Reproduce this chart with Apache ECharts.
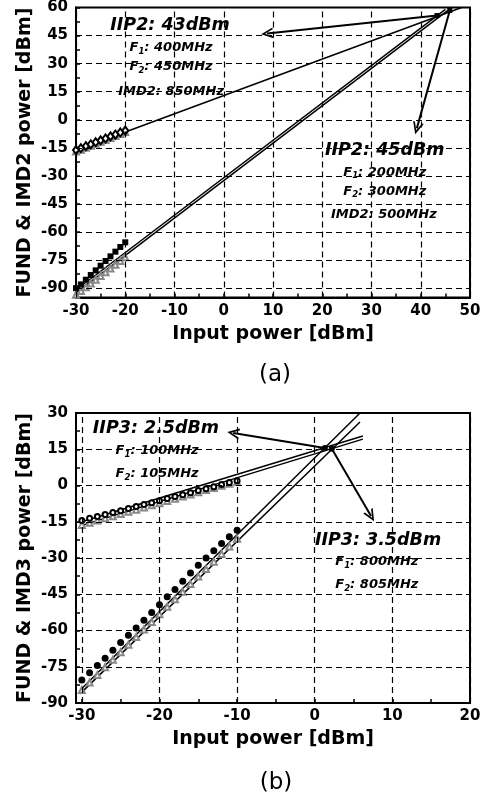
<!doctype html>
<html>
<head>
<meta charset="utf-8">
<script src="https://cdn.jsdelivr.net/npm/echarts@6.0.0/dist/echarts.min.js"></script>
<style>
  html, body { margin: 0; padding: 0; background: #fff; }
  #main { width: 488px; height: 801px; }
</style>
</head>
<body>
<div id="main"></div>
<script>
  // ---------- (a) IIP2 measurement ----------
  var xA = [-30, -29, -28, -27, -26, -25, -24, -23, -22, -21, -20];
  var fundA_dia = [-16.2, -15.2, -14.1, -13.1, -12.0, -11.0, -10.0, -8.9, -7.9, -6.8, -5.8];
  var fundA_tri = [-17.0, -16.0, -14.9, -13.9, -12.8, -11.8, -10.8, -9.7, -8.7, -7.6, -6.6];
  var imd2A_sq  = [-90.0, -88.0, -85.5, -83.0, -80.5, -78.0, -75.5, -73.0, -70.5, -68.0, -65.5];
  var imd2A_tri = [-93.5, -91.5, -89.5, -87.5, -85.5, -83.5, -81.5, -79.5, -77.5, -75.5, -73.5];
  var fitA_fund  = [[-30, -16.3], [48.3, 60]];
  var fitA_imd2a = [[-30, -91.0], [45.0, 59.0]];
  var fitA_imd2b = [[-30, -92.5], [45.5, 58.5]];
  var crossA  = [[43.3, 55.7], [45.9, 58.4]];
  var arrowsA = [[[43.3, 55.7], [8.8, 46.1]], [[45.9, 58.4], [39.2, -4.6]]];
  var notesA = [
    [-10.9, 50.4, '{t|IIP2: 43dBm}'],
    [-10.7, 38.7, 'F{s|1}: 400MHz'],
    [-10.7, 28.5, 'F{s|2}: 450MHz'],
    [-10.7, 15.2, 'IMD2: 850MHz'],
    [32.7, -16.3, '{t|IIP2: 45dBm}'],
    [32.7, -28.0, 'F{s|1}: 200MHz'],
    [32.7, -38.2, 'F{s|2}: 300MHz'],
    [32.5, -50.5, 'IMD2: 500MHz']
  ];
  var xTicksA = [-30, -20, -10, 0, 10, 20, 30, 40, 50];
  var xMinorA = [-25, -15, -5, 5, 15, 25, 35, 45];
  var yTicksA = [-90, -75, -60, -45, -30, -15, 0, 15, 30, 45, 60];
  var yMinorA = [-82.5, -67.5, -52.5, -37.5, -22.5, -7.5, 7.5, 22.5, 37.5, 52.5];

  // ---------- (b) IIP3 measurement ----------
  var xB = [-30, -29, -28, -27, -26, -25, -24, -23, -22, -21, -20, -19, -18, -17, -16, -15, -14, -13, -12, -11, -10];
  var fundB_circ = [-14.5, -13.6, -12.8, -12.0, -11.2, -10.4, -9.5, -8.7, -7.9, -7.1, -6.3, -5.4, -4.6, -3.8, -3.0, -2.1, -1.3, -0.5, 0.4, 1.2, 2.0];
  var fundB_tri  = [-16.3, -15.4, -14.5, -13.6, -12.7, -11.8, -10.9, -10.0, -9.1, -8.2, -7.3, -6.4, -5.5, -4.6, -3.7, -2.8, -1.9, -1.0, -0.1, 0.7, 1.5];
  var imd3B_circ = [-80.5, -77.5, -74.5, -71.5, -68.2, -65.0, -62.0, -59.0, -55.8, -52.5, -49.3, -46.0, -43.0, -39.6, -36.2, -33.0, -30.0, -27.0, -24.0, -21.2, -18.5];
  var imd3B_tri  = [-84.6, -81.5, -78.4, -75.2, -72.1, -69.0, -65.9, -62.7, -59.6, -56.5, -53.3, -50.2, -47.1, -44.0, -40.8, -37.7, -34.6, -31.5, -28.3, -25.2, -22.0];
  var fitB_fund1 = [[-30, -15.0], [6.2, 20.5]];
  var fitB_fund2 = [[-30, -16.5], [6.2, 19.2]];
  var fitB_imd3a = [[-30, -84.0], [5.83, 30]];
  var fitB_imd3b = [[-30, -85.5], [5.83, 26.3]];
  var crossB  = [[1.3, 15.5], [2.2, 15.2]];
  var arrowsB = [[[1.3, 15.5], [-10.5, 21.7]], [[2.2, 15.2], [7.25, -12.6]]];
  var notesB = [
    [-20.45, 23.8, '{t|IIP3: 2.5dBm}'],
    [-20.3, 14.3, 'F{s|1}: 100MHz'],
    [-20.3, 4.8, 'F{s|2}: 105MHz'],
    [8.15, -22.6, '{t|IIP3: 3.5dBm}'],
    [8.0, -31.7, 'F{s|1}: 800MHz'],
    [8.0, -41.2, 'F{s|2}: 805MHz']
  ];
  var xTicksB = [-30, -20, -10, 0, 10, 20];
  var xMinorB = [-25, -15, -5, 5, 15];
  var yTicksB = [-90, -75, -60, -45, -30, -15, 0, 15, 30];
  var yMinorB = [-82.5, -67.5, -52.5, -37.5, -22.5, -7.5, 7.5, 22.5];

  var FONT = 'DejaVu Sans';
  var chevron = 'path://M5,0 L10,11 L8.3,11 L5,3.6 L1.7,11 L0,11 Z';

  function zip(xs, ys) {
    return xs.map(function (x, i) { return [x, ys[i]]; });
  }

  function axis(gi, min, max, majors, minors, name, gap, margin) {
    return {
      type: 'value', gridIndex: gi, min: min, max: max,
      name: name, nameLocation: 'middle', nameGap: gap, nameMoveOverlap: false,
      nameTextStyle: { fontFamily: FONT, fontWeight: 'bold', fontSize: 19, color: '#000' },
      axisLine: { show: true, onZero: false, lineStyle: { color: '#000', width: 2 } },
      axisTick: { show: true, inside: true, length: 4, customValues: majors.concat(minors),
                  lineStyle: { color: '#000', width: 1.5 } },
      axisLabel: { customValues: majors, margin: margin, fontFamily: FONT, fontWeight: 'bold',
                   fontSize: 15, color: '#000' },
      splitLine: { show: false }
    };
  }

  function gridSeries(gi, xt, yt) {
    return {
      type: 'line', xAxisIndex: gi, yAxisIndex: gi, data: [], z: 1, silent: true,
      markLine: {
        silent: true, symbol: 'none', animation: false, label: { show: false },
        lineStyle: { color: '#000', type: [6, 4], width: 1.2 },
        data: xt.map(function (v) { return { xAxis: v }; })
          .concat(yt.map(function (v) { return { yAxis: v }; }))
      }
    };
  }

  function fit(gi, pts) {
    return { type: 'line', xAxisIndex: gi, yAxisIndex: gi, data: pts, showSymbol: false, z: 3,
             lineStyle: { color: '#000', width: 1.5 }, silent: true };
  }

  function marks(gi, pts, symbol, size, color) {
    return { type: 'scatter', xAxisIndex: gi, yAxisIndex: gi, data: pts, symbol: symbol,
             symbolSize: size, z: 4, silent: true,
             itemStyle: { color: color, opacity: 1 } };
  }

  function arrows(gi, list) {
    return {
      type: 'line', xAxisIndex: gi, yAxisIndex: gi, data: [], z: 5, silent: true,
      markLine: {
        silent: true, animation: false, symbol: ['none', chevron], symbolSize: [11, 12],
        label: { show: false }, lineStyle: { color: '#000', type: 'solid', width: 2 },
        data: list.map(function (a) { return [{ coord: a[0] }, { coord: a[1] }]; })
      }
    };
  }

  function notes(gi, list) {
    var base = { fontFamily: FONT, fontWeight: 'bold', fontStyle: 'italic', color: '#000',
                 textBorderWidth: 0 };
    return {
      type: 'scatter', xAxisIndex: gi, yAxisIndex: gi, data: list, symbolSize: 0, z: 6, silent: true,
      itemStyle: { color: '#000', opacity: 1 },
      label: {
        show: true, position: 'inside', color: '#000', textBorderWidth: 0,
        fontFamily: FONT, fontWeight: 'bold', fontStyle: 'italic', fontSize: 13,
        formatter: function (p) { return p.data[2]; },
        rich: {
          t: Object.assign({ fontSize: 17.5 }, base),
          s: Object.assign({ fontSize: 8.5, verticalAlign: 'bottom', padding: [0, 0, -2, 0] }, base)
        }
      }
    };
  }

  var chart = echarts.init(document.getElementById('main'));

  var option = {
    animation: false,
    backgroundColor: '#fff',
    grid: [
      { left: 76, width: 394, top: 7, height: 290.5, show: true, borderColor: '#000', borderWidth: 2 },
      { left: 76, width: 394, top: 413, height: 290, show: true, borderColor: '#000', borderWidth: 2 }
    ],
    xAxis: [
      axis(0, -30, 50, xTicksA, xMinorA, 'Input power [dBm]', 27, 6),
      axis(1, -30.75, 20, xTicksB, xMinorB, 'Input power [dBm]', 27, 6)
    ],
    yAxis: [
      axis(0, -95, 60, yTicksA, yMinorA, 'FUND & IMD2 power [dBm]', 41, 8),
      axis(1, -90, 30, yTicksB, yMinorB, 'FUND & IMD3 power [dBm]', 41, 8)
    ],
    graphic: [
      { type: 'text', x: 275, y: 375, style: { text: '(a)', fontFamily: FONT, fontSize: 23,
        fill: '#000', align: 'center', verticalAlign: 'middle' } },
      { type: 'text', x: 276, y: 783, style: { text: '(b)', fontFamily: FONT, fontSize: 23,
        fill: '#000', align: 'center', verticalAlign: 'middle' } }
    ],
    series: [
      gridSeries(0, xTicksA, yTicksA),
      fit(0, fitA_fund),
      fit(0, fitA_imd2a),
      fit(0, fitA_imd2b),
      marks(0, zip(xA, fundA_tri), 'emptyTriangle', 6, '#888'),
      marks(0, zip(xA, fundA_dia), 'emptyDiamond', [6, 8], '#000'),
      marks(0, zip(xA, imd2A_tri), 'emptyTriangle', 6, '#888'),
      marks(0, zip(xA, imd2A_sq), 'rect', 6, '#000'),
      marks(0, crossA, 'rect', 5, '#000'),
      arrows(0, arrowsA),
      notes(0, notesA),

      gridSeries(1, xTicksB, yTicksB),
      fit(1, fitB_fund1),
      fit(1, fitB_fund2),
      fit(1, fitB_imd3a),
      fit(1, fitB_imd3b),
      marks(1, zip(xB, fundB_tri), 'emptyTriangle', 6, '#888'),
      marks(1, zip(xB, fundB_circ), 'emptyCircle', 5, '#000'),
      marks(1, zip(xB, imd3B_tri), 'emptyTriangle', 6, '#888'),
      marks(1, zip(xB, imd3B_circ), 'circle', 7, '#000'),
      marks(1, crossB, 'circle', 6, '#000'),
      arrows(1, arrowsB),
      notes(1, notesB)
    ]
  };

  chart.setOption(option);
</script>
</body>
</html>
